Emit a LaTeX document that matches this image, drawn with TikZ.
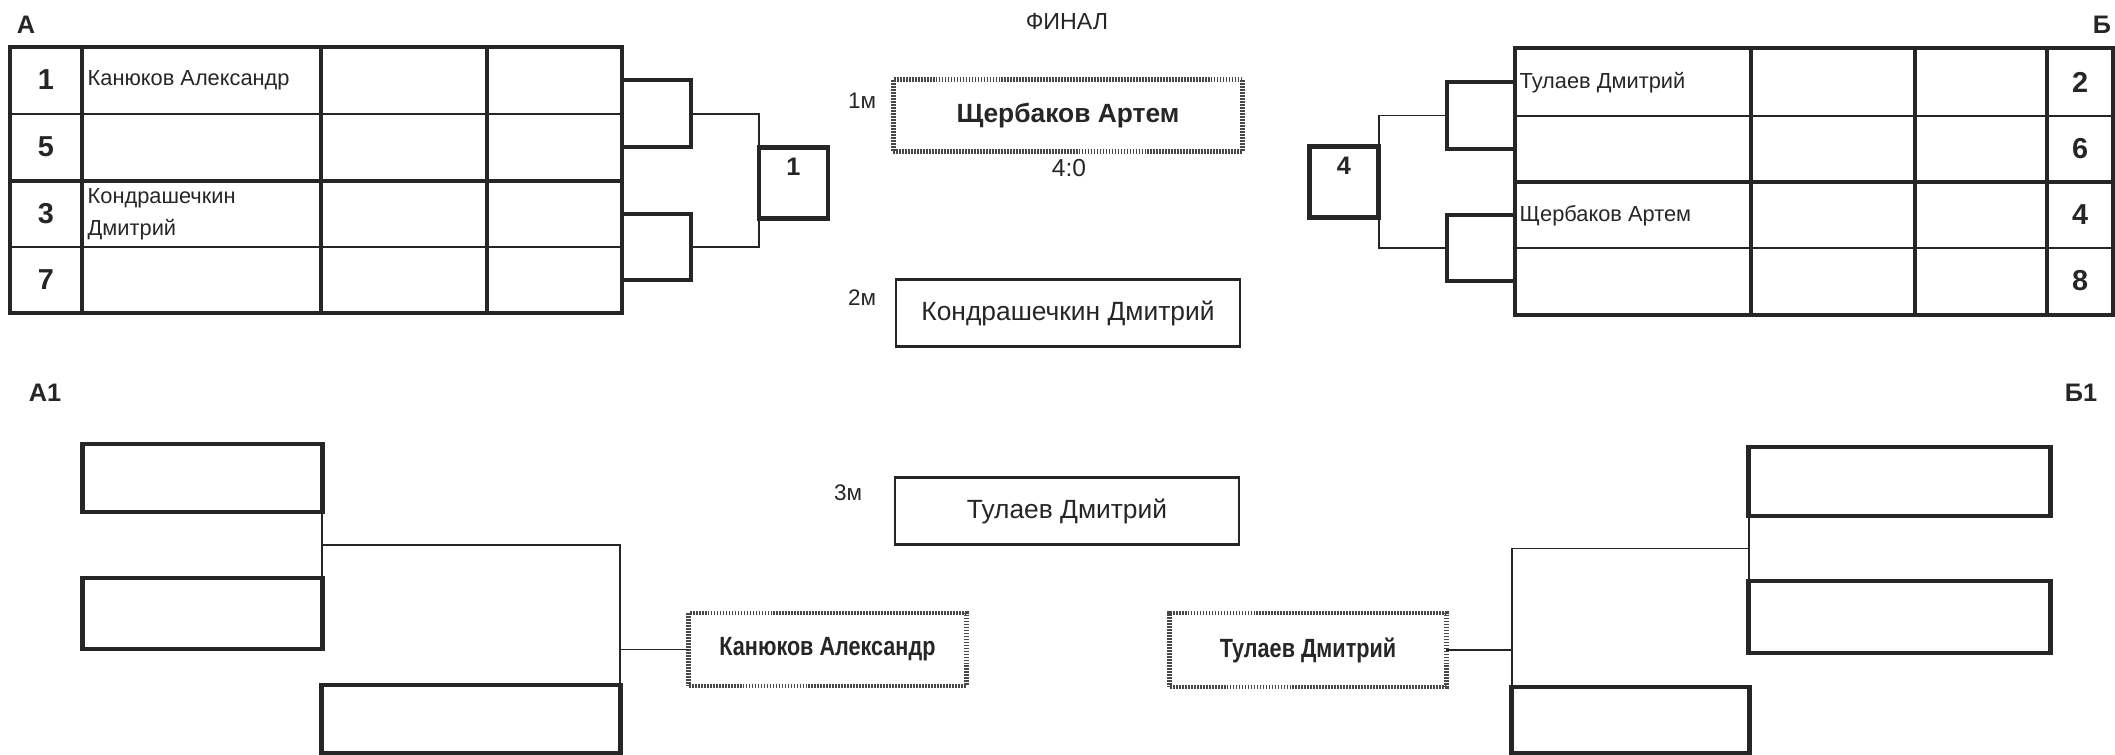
\documentclass[tikz,border=0pt]{standalone}
\usepackage{fontspec}
\setmainfont{Liberation Sans}
\newfontfamily\narrowfont[FakeStretch=0.82]{Liberation Sans}
\usetikzlibrary{positioning}
\definecolor{ink}{gray}{0.15}

\tikzstyle{frameline}=[ink, line width=1.4pt]
\tikzstyle{rowline}=[ink, line width=0.65pt]
\tikzstyle{midrow}=[ink, line width=1.1pt]
\tikzstyle{colline}=[ink, line width=1.2pt]
\tikzstyle{bracket}=[ink, line width=1.2pt]
\tikzstyle{link}=[ink, line width=0.55pt]
\tikzstyle{seednum}=[ink, font=\fontsize{8.2}{9}\selectfont\bfseries]
\tikzstyle{player}=[ink, anchor=west, align=left, inner sep=0pt, font=\fontsize{6.2}{9.1}\selectfont]
\tikzstyle{grouptag}=[ink, font=\fontsize{7.2}{8}\selectfont\bfseries]
\tikzstyle{placetag}=[ink, font=\fontsize{6.4}{7}\selectfont]
\tikzstyle{scorebox}=[draw=ink, line width=1.2pt, minimum width=0.69cm, minimum height=0.71cm, inner sep=0pt, outer sep=0pt, text depth=0.32cm, text=ink, font=\fontsize{7.2}{8}\selectfont\bfseries]
\tikzstyle{emptybox}=[draw=ink, line width=1.4pt, minimum height=0.68cm, inner sep=0pt, outer sep=0pt]
\tikzstyle{winbox}=[draw=black!72, line width=1.4pt, dash pattern=on 0.5pt off 0.35pt, minimum width=2.77cm, minimum height=0.73cm, outer sep=0pt, text=ink, font=\narrowfont\fontsize{7.5}{8}\selectfont\bfseries]
\tikzstyle{placebox}=[draw=ink, line width=0.75pt, minimum width=3.44cm, minimum height=0.67cm, outer sep=0pt, text=ink, font=\fontsize{7.5}{8}\selectfont]

\begin{document}
\begin{tikzpicture}[x=0.01cm, y=-0.01cm]
\useasboundingbox (0,0) rectangle (2115,755);
% Group titles
    \node[grouptag] (tagA) at (26,25) {А};
    \node[grouptag] (tagB) at (2102,25) {Б};
    \node[grouptag] (tagA1) at (45,393) {А1};
    \node[grouptag] (tagB1) at (2081,393) {Б1};
    \node[placetag, font=\fontsize{6.6}{8}\selectfont] (final) at (1067,22) {ФИНАЛ};
% Table A
    \draw[rowline] (10,114) -- (622,114);
    \draw[rowline] (10,247) -- (622,247);
    \draw[midrow] (10,181) -- (622,181);
    \foreach \x in {82,321,487} \draw[colline] (\x,47) -- (\x,313);
    \draw[frameline] (10,47) rectangle (622,313);
    \foreach \n/\y in {1/80, 5/147, 3/214, 7/280} \node[seednum] (seedA\n) at (46,\y) {\n};
    \node[player] (pA1) at (87,80) {Канюков Александр};
    \node[player] (pA3) at (87,214) {Кондрашечкин\\Дмитрий};
% Brackets A
    \foreach \ya/\yb in {80/147, 214/280} \draw[bracket] (622,\ya) -| (691,\yb) -- (622,\yb);
    \node[scorebox] (winA) at (793.5,183) {1};
    \coordinate (jA1) at (691,114);
    \coordinate (jA2) at (691,247);
    \draw[link] (jA1) -- (jA1 -| winA.west) -- (jA2 -| winA.west) -- (jA2);
% Final
    \node[winbox, minimum width=3.49cm, minimum height=0.72cm, font=\fontsize{7.5}{8}\selectfont\bfseries] (gold) at (1068,115.5) {Щербаков Артем};
    \node[placetag] (tag1) at (862,101) {1м};
    \node[placetag, font=\fontsize{7}{8}\selectfont] (score) at (1069,168) {4:0};
    \node[placebox] (silver) at (1068,313) {Кондрашечкин Дмитрий};
    \node[placetag] (tag2) at (862,298) {2м};
    \node[placebox] (bronze) at (1067,511) {Тулаев Дмитрий};
    \node[placetag] (tag3) at (848,493) {3м};
% Table B
    \draw[rowline] (1515,116) -- (2113,116);
    \draw[rowline] (1515,248) -- (2113,248);
    \draw[midrow] (1515,182) -- (2113,182);
    \foreach \x in {1751,1915,2047} \draw[colline] (\x,48) -- (\x,315);
    \draw[frameline] (1515,48) rectangle (2113,315);
    \foreach \n/\y in {2/82, 6/149, 4/215, 8/281} \node[seednum] (seedB\n) at (2080,\y) {\n};
    \node[player] (pB2) at (1519,83) {Тулаев Дмитрий};
    \node[player] (pB4) at (1519,216) {Щербаков Артем};
% Brackets B
    \foreach \ya/\yb in {82/149, 215/281} \draw[bracket] (1515,\ya) -| (1447,\yb) -- (1515,\yb);
    \node[scorebox] (winB) at (1344,182) {4};
    \coordinate (jB1) at (1447,115.5);
    \coordinate (jB2) at (1447,248);
    \draw[link] (jB1) -- (jB1 -| winB.east) -- (jB2 -| winB.east) -- (jB2);
% Consolation A1
    \node[emptybox, minimum width=2.39cm] (a1) at (202.5,478) {};
    \node[emptybox, minimum width=2.39cm, minimum height=0.71cm] (a2) at (202.5,613.5) {};
    \node[emptybox, minimum width=2.98cm] (a3) at (471,719) {};
    \node[winbox] (champA) at (827.5,649.5) {Канюков Александр};
    \draw[link] (a1.south east) -- (a2.north east);
    \coordinate (jA3) at (322,545);
    \draw[link] (jA3) -| (a3.north east);
    \draw[link] (champA.west) -- (champA.west -| a3.north east);
% Consolation B1
    \node[emptybox, minimum width=3.01cm, minimum height=0.69cm] (b1) at (1899.5,481.5) {};
    \node[emptybox, minimum width=3.01cm, minimum height=0.72cm] (b2) at (1899.5,617) {};
    \node[emptybox, minimum width=2.37cm, minimum height=0.66cm] (b3) at (1630.5,720) {};
    \node[winbox, minimum width=2.76cm, minimum height=0.74cm] (champB) at (1308,650) {Тулаев Дмитрий};
    \draw[link] (b1.south west) -- (b2.north west);
    \coordinate (jB3) at (1749,548.5);
    \draw[link] (jB3) -| (b3.north west);
    \draw[link] (champB.east) -- (champB.east -| b3.north west);
\end{tikzpicture}
\end{document}
